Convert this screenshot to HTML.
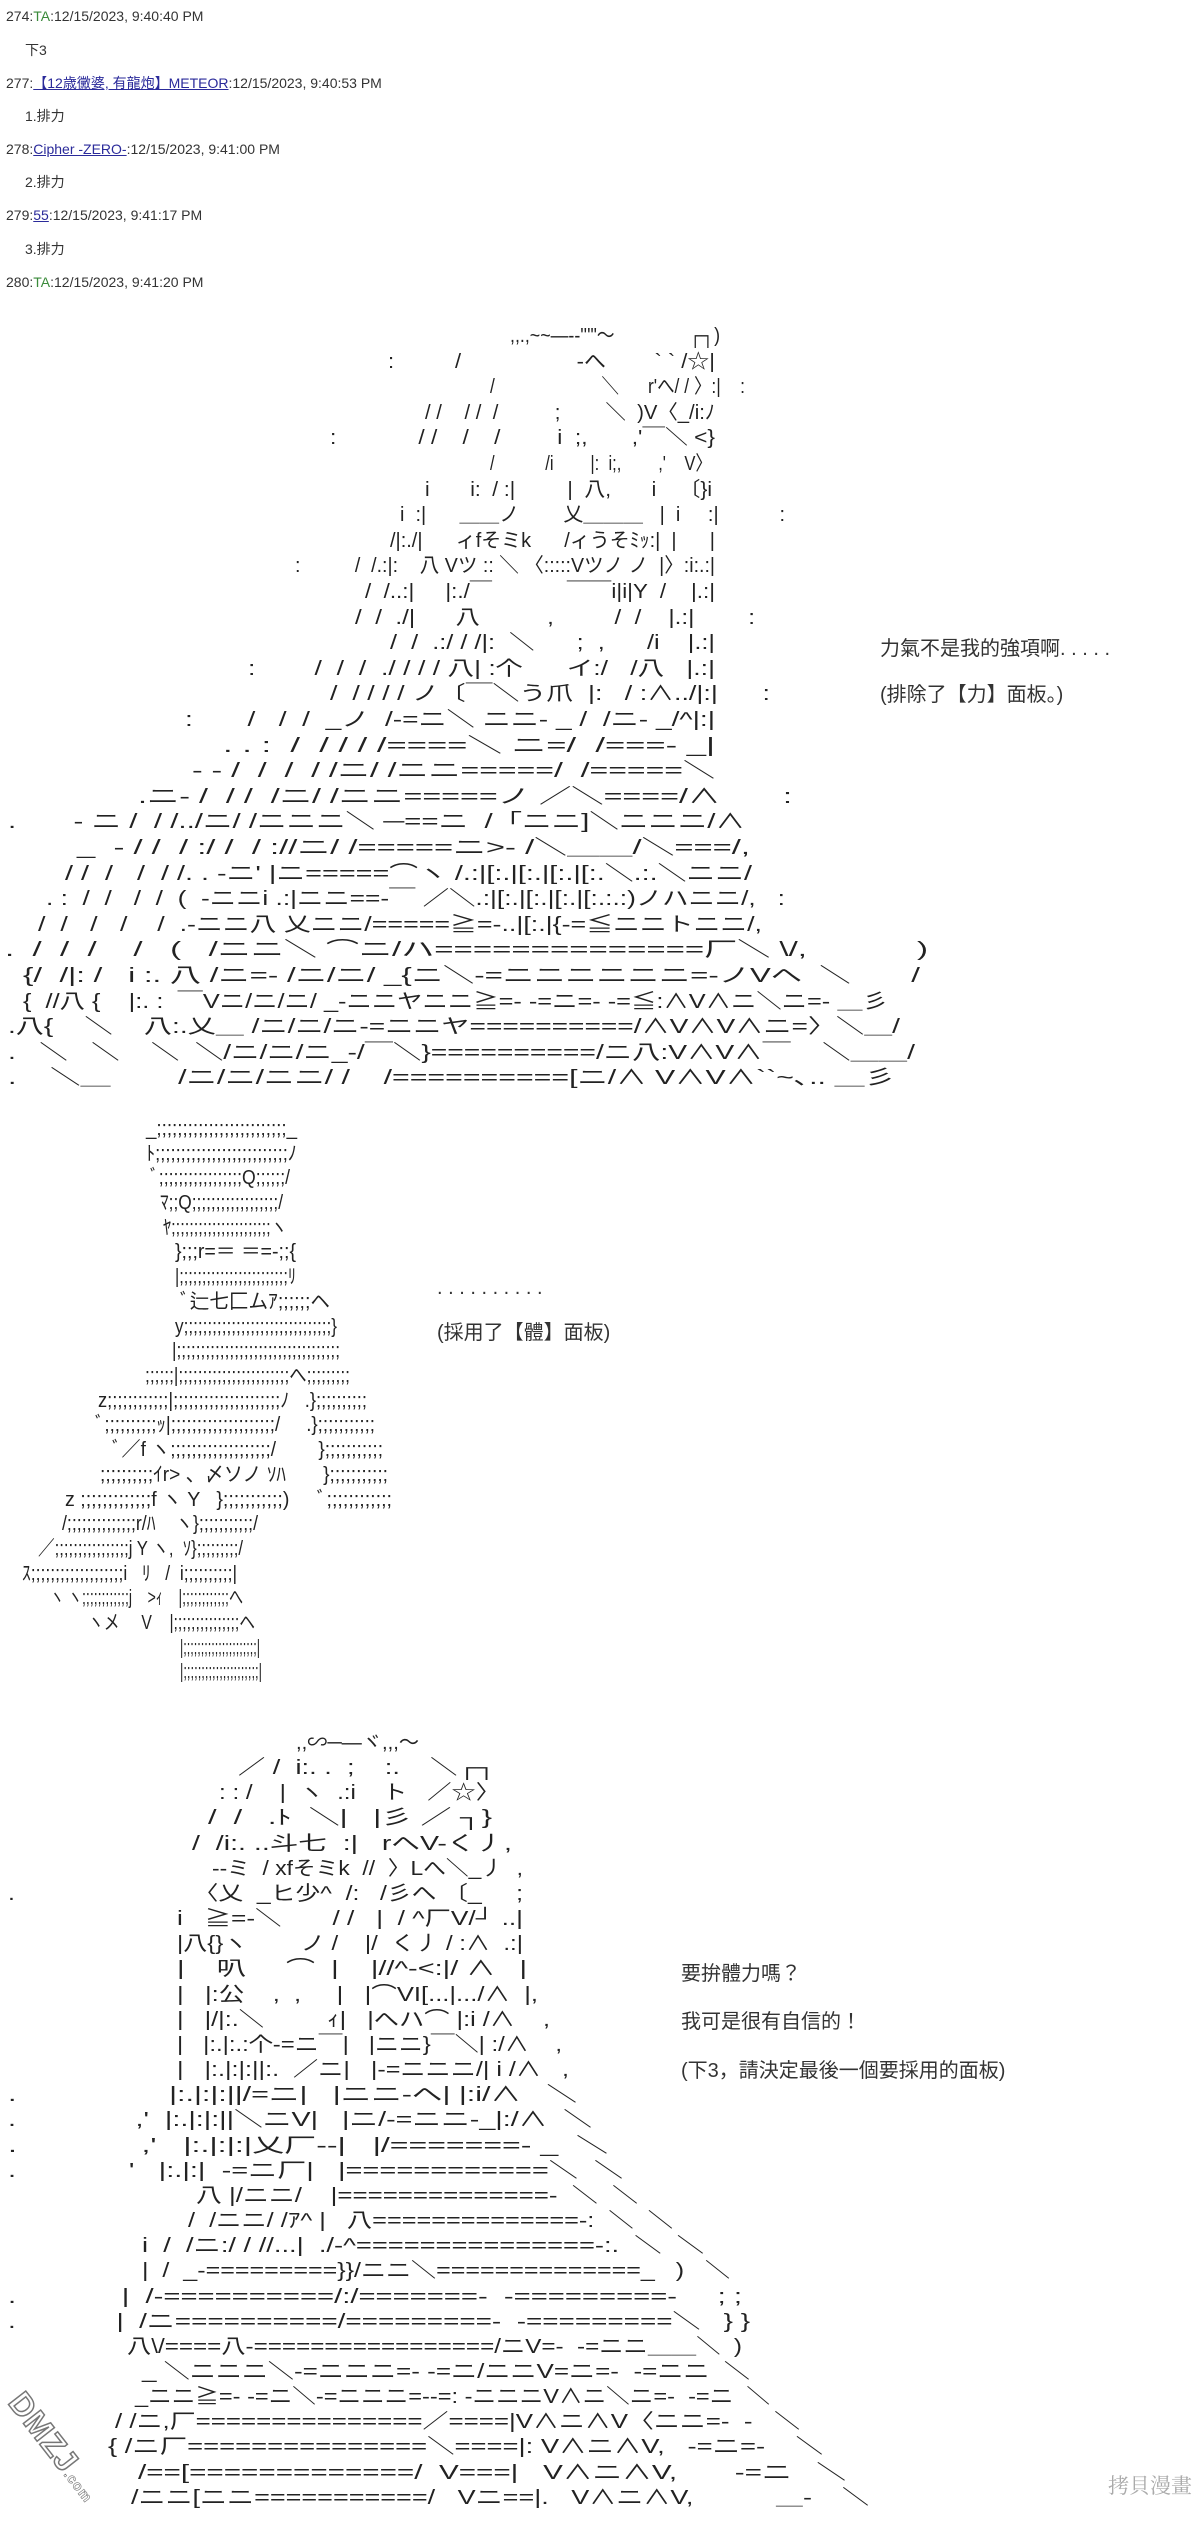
<!DOCTYPE html>
<html><head><meta charset="utf-8">
<style>
html,body{margin:0;padding:0;background:#fff;}
body{width:1200px;height:2529px;position:relative;overflow:hidden;font-family:"Liberation Sans","Noto Sans CJK JP",sans-serif;color:#222;}
.h{position:absolute;left:6px;font-size:14px;line-height:18px;color:#333;}
.h.i{left:25px;}
.g{color:#3a8a3a;}
.l{color:#2a2a9a;text-decoration:underline;}
.r{position:absolute;height:25px;font-size:20px;line-height:25px;white-space:pre;color:#222;}
.r span{display:inline-block;transform-origin:0 0;}
.t{position:absolute;font-size:20px;line-height:24px;color:#333;white-space:nowrap;}
</style></head><body>
<div class="h" style="top:7px">274:<span class="g">TA</span>:12/15/2023, 9:40:40 PM</div>
<div class="h i" style="top:41px">下3</div>
<div class="h" style="top:74px">277:<span class="l">【12歳黴婆, 有龍炮】METEOR</span>:12/15/2023, 9:40:53 PM</div>
<div class="h i" style="top:107px">1.排力</div>
<div class="h" style="top:140px">278:<span class="l">Cipher -ZERO-</span>:12/15/2023, 9:41:00 PM</div>
<div class="h i" style="top:173px">2.排力</div>
<div class="h" style="top:206px">279:<span class="l">55</span>:12/15/2023, 9:41:17 PM</div>
<div class="h i" style="top:240px">3.排力</div>
<div class="h" style="top:273px">280:<span class="g">TA</span>:12/15/2023, 9:41:20 PM</div>

<!-- Art 1 -->
<div class="r" style="left:510px;top:324px;width:210px"><span>,,.,~~―‐‐'''"～               ┌┐)</span></div>
<div class="r" style="left:388px;top:350px;width:327px"><span>:          /                   -へ        ` ` /☆|</span></div>
<div class="r" style="left:490px;top:375px;width:255px"><span>/                      ＼      r'へ/ / 〉:|    :</span></div>
<div class="r" style="left:425px;top:401px;width:290px"><span>/ /    / /  /          ;        ＼  )V〈_/i:ﾉ</span></div>
<div class="r" style="left:330px;top:426px;width:385px"><span>:             / /    /    /         i  ;,       ,'￣＼ &lt;}</span></div>
<div class="r" style="left:490px;top:452px;width:222px"><span>/           /i        |:  i;,        ,'    V〉</span></div>
<div class="r" style="left:425px;top:478px;width:287px"><span>i       i:  / :|         |  八,       i    〔}i</span></div>
<div class="r" style="left:400px;top:503px;width:385px"><span>i  :|      ＿＿ノ        乂＿＿＿   |  i     :|           :</span></div>
<div class="r" style="left:390px;top:529px;width:325px"><span>/|:./|      ィfそミk      /ィうそﾐｯ:|  |      |</span></div>
<div class="r" style="left:295px;top:554px;width:420px"><span>:          /  /.:|:    八 Vツ :: ＼ 〈:::::Vツノ ノ  |〉:i:.:|</span></div>
<div class="r" style="left:365px;top:580px;width:350px"><span>/  /..:|     |:./￣            ￣￣i|i|Y  /    |.:|</span></div>
<div class="r" style="left:355px;top:606px;width:400px"><span>/  /  ./|      八          ,         /  /    |.:|        :</span></div>
<div class="r" style="left:390px;top:631px;width:325px"><span>/  /  .:/ / /|:  ＼      ;  ,      /i    |.:|</span></div>
<div class="r" style="left:248px;top:657px;width:467px"><span>:        /  /  /  ./ / / / 八| :个      イ:/   /八   |.:|</span></div>
<div class="r" style="left:330px;top:682px;width:440px"><span>/  / / / / ノ〔￣＼う爪  |:   / :∧../|:|      :</span></div>
<div class="r" style="left:185px;top:708px;width:530px"><span>:       /   /  /  _ノ  /‐=ニ＼ ニニ‐ _ /  /ニ‐ _/^|:|</span></div>
<div class="r" style="left:223px;top:734px;width:492px"><span>. . :  /  / / / /====＼ ニ=/  /===- _|</span></div>
<div class="r" style="left:192px;top:759px;width:523px"><span>- ‐ /  /  /  / /ニ/ /ニニ=====/  /=====＼</span></div>
<div class="r" style="left:138px;top:785px;width:654px"><span>.ニ- /  / /  /ニ/ /ニニ=====ノ ／＼====/∧       :</span></div>
<div class="r" style="left:8px;top:810px;width:737px"><span>.       - ニ /  / /../ニ/ /ニニニ＼ ─==ニ  /「ニニ]＼ニニニ/∧</span></div>
<div class="r" style="left:77px;top:836px;width:673px"><span>_  - / /  / :/ /  / ://ニ/ /=====ニ&gt;- /＼＿＿/＼===/,</span></div>
<div class="r" style="left:65px;top:862px;width:687px"><span>/ /  /   /  / /. . -ニ' |ニ=====⌒ヽ /.:|[:.|[:.|[:.|[:.＼.:.＼ニニ/</span></div>
<div class="r" style="left:46px;top:887px;width:739px"><span>. :  /  /   /  /  (  -ニニi .:|ニニ==‐￣ ／＼.:|[:.|[:.|[:.|[:.:.:)ノハニニ/,   :</span></div>
<div class="r" style="left:38px;top:913px;width:724px"><span>/  /   /   /    /  .-ニニ八 乂ニニ/=====≧=-..|[:.|{-=≦ニニトニニ/,</span></div>
<div class="r" style="left:5px;top:938px;width:923px"><span>.  /  /  /    /   (   /ニニ＼ ⌒ニ/ハ==============厂＼ \/,            )</span></div>
<div class="r" style="left:23px;top:964px;width:897px"><span>{/  /|: /   i :. 八 /ニ=- /ニ/ニ/ _{ニ＼-=ニニニニニニ=-ノVへ  ＼       /</span></div>
<div class="r" style="left:23px;top:990px;width:865px"><span>{  //八 {    |:. :  ￣Vニ/ニ/ニ/ _-ニニヤニニ≧=- -=ニ=- -=≦:∧V∧ニ＼ニ=- ＿彡</span></div>
<div class="r" style="left:8px;top:1015px;width:892px"><span>.八{    ＼    八:.乂＿ /ニ/ニ/ニ-=ニニヤ==========/∧V∧V∧ニ=〉＼＿/</span></div>
<div class="r" style="left:8px;top:1041px;width:907px"><span>.   ＼   ＼    ＼  ＼/ニ/ニ/ニ_-/￣＼}==========/ニ八:V∧V∧￣    ＼＿＿/</span></div>
<div class="r" style="left:8px;top:1066px;width:887px"><span>.    ＼＿        /ニ/ニ/ニニ/ /    /==========[ニ/∧ V∧V∧``~､.. ＿彡</span></div>

<div class="t" style="left:880px;top:637px">力氣不是我的強項啊. . . . .</div>
<div class="t" style="left:880px;top:683px">(排除了【力】面板。)</div>

<!-- Art 2 -->
<div class="r" style="left:146px;top:1117px;width:151px"><span>_;;;;;;;;;;;;;;;;;;;;;;;;;_</span></div>
<div class="r" style="left:146px;top:1142px;width:151px"><span>ﾄ;;;;;;;;;;;;;;;;;;;;;;;;;;ﾉ</span></div>
<div class="r" style="left:150px;top:1166px;width:140px"><span>ﾞ;;;;;;;;;;;;;;;;;Q;;;;;;/</span></div>
<div class="r" style="left:160px;top:1191px;width:123px"><span>ﾏ;;Q;;;;;;;;;;;;;;;;;;/</span></div>
<div class="r" style="left:163px;top:1216px;width:124px"><span>ﾔ;;;;;;;;;;;;;;;;;;;;;;ヽ</span></div>
<div class="r" style="left:175px;top:1240px;width:121px"><span>};;;r=＝ ＝=-;;{</span></div>
<div class="r" style="left:175px;top:1265px;width:121px"><span>|;;;;;;;;;;;;;;;;;;;;;;;;ﾘ</span></div>
<div class="r" style="left:180px;top:1290px;width:150px"><span>ﾞ辷七匚ムｱ;;;;;;ヘ</span></div>
<div class="r" style="left:175px;top:1315px;width:162px"><span>y;;;;;;;;;;;;;;;;;;;;;;;;;;;;;;;}</span></div>
<div class="r" style="left:172px;top:1339px;width:168px"><span>|;;;;;;;;;;;;;;;;;;;;;;;;;;;;;;;;;;</span></div>
<div class="r" style="left:145px;top:1364px;width:205px"><span>;;;;;;|;;;;;;;;;;;;;;;;;;;;;;;へ;;;;;;;;;</span></div>
<div class="r" style="left:98px;top:1389px;width:269px"><span>z;;;;;;;;;;;;|;;;;;;;;;;;;;;;;;;;;;ﾉ   .};;;;;;;;;;</span></div>
<div class="r" style="left:95px;top:1413px;width:280px"><span>ﾞ;;;;;;;;;;ｯ|;;;;;;;;;;;;;;;;;;;;/     .};;;;;;;;;;;</span></div>
<div class="r" style="left:112px;top:1438px;width:271px"><span>ﾞ／f ヽ;;;;;;;;;;;;;;;;;;;/        };;;;;;;;;;;</span></div>
<div class="r" style="left:100px;top:1463px;width:288px"><span>;;;;;;;;;;ｲr&gt; 、〆ソノ ｿﾊ       };;;;;;;;;;;</span></div>
<div class="r" style="left:65px;top:1488px;width:327px"><span>z ;;;;;;;;;;;;;f ヽ Y   };;;;;;;;;;;)     ﾞ;;;;;;;;;;;;</span></div>
<div class="r" style="left:62px;top:1512px;width:196px"><span>/;;;;;;;;;;;;;;r/ﾊ    ヽ};;;;;;;;;;;/</span></div>
<div class="r" style="left:38px;top:1537px;width:205px"><span>／;;;;;;;;;;;;;;;;j Y ヽ,  ｿ};;;;;;;;;/</span></div>
<div class="r" style="left:22px;top:1562px;width:215px"><span>ｽ;;;;;;;;;;;;;;;;;;;i   ﾘ   /  i;;;;;;;;;;|</span></div>
<div class="r" style="left:50px;top:1586px;width:193px"><span>ヽ ヽ;;;;;;;;;;;;j    &gt;ｨ    |;;;;;;;;;;;;へ</span></div>
<div class="r" style="left:88px;top:1611px;width:167px"><span>ヽメ     V    |;;;;;;;;;;;;;;;ヘ</span></div>
<div class="r" style="left:180px;top:1636px;width:80px"><span>|;;;;;;;;;;;;;;;;;;;;;|</span></div>
<div class="r" style="left:180px;top:1660px;width:82px"><span>|;;;;;;;;;;;;;;;;;;;;;|</span></div>

<div class="t" style="left:437px;top:1276px">. . . . . . . . . .</div>
<div class="t" style="left:437px;top:1321px">(採用了【體】面板)</div>

<!-- Art 3 -->
<div class="r" style="left:296px;top:1731px;width:123px"><span>,,∽─―ヾ,,,～</span></div>
<div class="r" style="left:238px;top:1756px;width:258px"><span>／ /  i:. .  ;    :.    ＼┌┐</span></div>
<div class="r" style="left:219px;top:1781px;width:281px"><span>: : /    |  ヽ  .:i    ト   ／☆〉</span></div>
<div class="r" style="left:208px;top:1806px;width:284px"><span>/  /   .ﾄ  ＼|   |彡 ／ ┐}</span></div>
<div class="r" style="left:192px;top:1832px;width:320px"><span>/  /i:. ..斗七  :|   rへV-く丿,</span></div>
<div class="r" style="left:212px;top:1857px;width:311px"><span>--ミ  / xfそミk  //  〉Lへ＼_丿  ,</span></div>
<div class="r" style="left:8px;top:1882px;width:515px"><span>.                          〈乂  _ヒ少^  /:   /彡へ 〔_     ;</span></div>
<div class="r" style="left:177px;top:1907px;width:346px"><span>i   ≧=-＼       / /   |  / ^厂V/┘ ..|</span></div>
<div class="r" style="left:177px;top:1932px;width:346px"><span>|八{}ヽ        ノ /    |/  く丿 / :∧  .:|</span></div>
<div class="r" style="left:177px;top:1957px;width:350px"><span>|    叭     ⌒  |    |//^-&lt;:|/ ∧   |</span></div>
<div class="r" style="left:177px;top:1983px;width:361px"><span>|   |:公    ,  ,     |   |⌒VI[...|.../∧  |,</span></div>
<div class="r" style="left:177px;top:2008px;width:373px"><span>|   |/|:.＼         ｨ|   |へハ⌒ |:i /∧    ,</span></div>
<div class="r" style="left:177px;top:2033px;width:385px"><span>|   |:.|:.:个-=ニ￣|   |ニニ}￣＼| :/∧    ,</span></div>
<div class="r" style="left:177px;top:2058px;width:392px"><span>|   |:.|:|:||:.  ／ニ|   |-=ニニニ/| i /∧   ,</span></div>
<div class="r" style="left:8px;top:2083px;width:569px"><span>.                  |:.|:|:||/=ニ|   |ニニ-へ| |:i/∧   ＼</span></div>
<div class="r" style="left:8px;top:2108px;width:584px"><span>.               ,'  |:.|:|:||＼ニV|   |ニ/-=ニニ-_|:/∧  ＼</span></div>
<div class="r" style="left:8px;top:2134px;width:600px"><span>.              ,'   |:.|:|:|乂厂--|   |/=======- _  ＼</span></div>
<div class="r" style="left:8px;top:2159px;width:615px"><span>.              '   |:.|:|  -=ニ厂|   |============＼  ＼</span></div>
<div class="r" style="left:196px;top:2184px;width:442px"><span>八 |/ニニ/    |==============-  ＼  ＼</span></div>
<div class="r" style="left:188px;top:2209px;width:485px"><span>/  /ニニ/ /ｱ^ |   八==============-:  ＼  ＼</span></div>
<div class="r" style="left:142px;top:2234px;width:562px"><span>i  /  /ニ:/ / //...|  ./-^===============-:.  ＼  ＼</span></div>
<div class="r" style="left:142px;top:2259px;width:588px"><span>|  /  _-=========}}/ニニ＼==============_   )   ＼</span></div>
<div class="r" style="left:8px;top:2285px;width:734px"><span>.             |  /-==========/:/=======-  -=========-     ; ;</span></div>
<div class="r" style="left:8px;top:2310px;width:742px"><span>.             |  /ニ==========/=========-  -=========＼   } }</span></div>
<div class="r" style="left:127px;top:2335px;width:615px"><span>八\/====八-=================/ニV=-  -=ニニ＿＿＼  )</span></div>
<div class="r" style="left:142px;top:2360px;width:608px"><span>_ ＼ニニニ＼-=ニニニ=- -=ニ/ニニV=ニ=-  -=ニニ  ＼</span></div>
<div class="r" style="left:135px;top:2385px;width:635px"><span>_ニニ≧=- -=ニ＼-=ニニニ=--=: -ニニニV∧ニ＼ニ=-  -=ニ  ＼</span></div>
<div class="r" style="left:115px;top:2410px;width:685px"><span>/ /ニ,厂===============／====|V∧ニ∧V〈ニニ=-  -   ＼</span></div>
<div class="r" style="left:108px;top:2435px;width:715px"><span>{ /ニ厂===============＼====|: V∧ニ∧V,   -=ニ=-    ＼</span></div>
<div class="r" style="left:138px;top:2461px;width:708px"><span>/==[=============/  V===|   V∧ニ∧V,       -=ニ   ＼</span></div>
<div class="r" style="left:131px;top:2486px;width:738px"><span>/ニニ[ニニ===========/   Vニ==|.   V∧ニ∧V,           ＿-    ＼</span></div>

<div class="t" style="left:681px;top:1962px">要拚體力嗎？</div>
<div class="t" style="left:681px;top:2010px">我可是很有自信的！</div>
<div class="t" style="left:681px;top:2059px">(下3，請決定最後一個要採用的面板)</div>

<div style="position:absolute;left:30px;top:2385px;font-size:32px;font-weight:bold;color:#fff;-webkit-text-stroke:1.5px #777;transform:rotate(52deg);transform-origin:0 0;letter-spacing:1px;white-space:nowrap;">DMZJ<span style="font-size:14px;-webkit-text-stroke:0.6px #777">.com</span></div>
<div style="position:absolute;left:1108px;top:2470px;font-size:21px;color:#aaa;font-family:'Noto Serif CJK SC',serif;">拷貝漫畫</div>

<script>
document.querySelectorAll('.r').forEach(function(r){
  var s=r.firstElementChild;var w=s.getBoundingClientRect().width;var W=parseFloat(r.style.width);
  if(w>0)s.style.transform='scaleX('+(W/w)+')';
});
</script>
</body></html>
